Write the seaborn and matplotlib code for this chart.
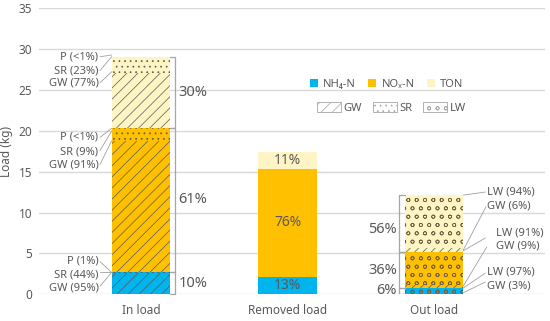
import matplotlib
matplotlib.use("Agg")
import matplotlib.pyplot as plt
from matplotlib.patches import Patch
import seaborn as sns
import pandas as pd
import numpy as np

# ---------------- data ----------------
categories = ["In load", "Removed load", "Out load"]
nh4 = [2.75, 2.15, 0.75]
nox = [17.65, 13.25, 4.45]
ton = [8.7, 2.0, 6.9]

in_pct = ["10%", "61%", "30%"]
removed_pct = ["13%", "76%", "11%"]
out_pct = ["6%", "36%", "56%"]

# source shares (In load): GW share per segment (NH4, NOx, TON)
in_gw_share = [0.95, 0.91, 0.77]
in_labels = [["P (1%)", "SR (44%)", "GW (95%)"],
             ["P (<1%)", "SR (9%)", "GW (91%)"],
             ["P (<1%)", "SR (23%)", "GW (77%)"]]
# source shares (Out load): GW share per segment (NH4, NOx, TON)
out_gw_share = [0.03, 0.09, 0.06]
out_labels = ["LW (94%)", "GW (6%)", "LW (91%)", "GW (9%)", "LW (97%)", "GW (3%)"]

legend_names = ["NH\u2084-N", "NO\u2093-N", "TON"]
pattern_names = ["GW", "SR", "LW"]

# ---------------- style ----------------
sns.set_style("white")
plt.rcParams["font.family"] = ["Noto Sans", "DejaVu Sans"]
plt.rcParams["hatch.linewidth"] = 0.5
TXT = "#595959"
C_NH4, C_NOX, C_TON = "#00B4EE", "#FFC000", "#FFF4C4"
HATCH = "#5a5a5a"
GRAY = "#a6a6a6"

fig = plt.figure(figsize=(5.5, 3.21), dpi=100)
ax = fig.add_axes([0.071, 0.083, 0.92, 0.891])

nh4_a, nox_a, ton_a = np.array(nh4), np.array(nox), np.array(ton)
df = pd.DataFrame({"cat": categories,
                   "total": nh4_a + nox_a + ton_a,
                   "low2": nh4_a + nox_a,
                   "low1": nh4_a})
W = 0.4
for col, c in (("total", C_TON), ("low2", C_NOX), ("low1", C_NH4)):
    sns.barplot(data=df, x="cat", y=col, color=c, width=W, saturation=1, ax=ax,
                zorder=2, linewidth=0, edgecolor="none")

segs = [nh4_a, nox_a, ton_a]
bottoms = [np.zeros(3), nh4_a, nh4_a + nox_a]

# In load patterns (x = 0)
for k in range(3):
    b = bottoms[k][0]
    h = segs[k][0]
    gw = h * in_gw_share[k]
    ax.bar(0, gw, bottom=b, width=W, facecolor="none", edgecolor=HATCH, lw=0, hatch="///", zorder=3)
    ax.bar(0, h - gw, bottom=b + gw, width=W, facecolor="none", edgecolor=HATCH, lw=0, hatch="...", zorder=3)

# Out load patterns (x = 2)
for k in range(3):
    b = bottoms[k][2]
    h = segs[k][2]
    gw = h * out_gw_share[k]
    ax.bar(2, gw, bottom=b, width=W, facecolor="none", edgecolor=HATCH, lw=0, hatch="////", zorder=3)
    ax.bar(2, h - gw, bottom=b + gw, width=W, facecolor="none", edgecolor="#6e6040", lw=0, hatch="oo", zorder=3)

# ---------------- axes ----------------
ax.set_ylim(0, 35)
ax.set_xlim(-0.696, 2.758)
ax.set_yticks(range(0, 36, 5))
ax.yaxis.grid(True, color="#d9d9d9", lw=1)
ax.set_axisbelow(True)
for s in ax.spines.values():
    s.set_visible(False)
ax.tick_params(axis="both", length=0, colors=TXT, labelsize=8.5)
ax.tick_params(axis="x", pad=7)
ax.tick_params(axis="y", pad=5)
ax.set_xlabel("")
ax.set_ylabel("Load (kg)", color=TXT, fontsize=8.5, labelpad=4)

# ---------------- percentage labels and brackets ----------------
tops = [bottoms[k] + segs[k] for k in range(3)]
# In load: bracket on right
bx = 0.232
for k in range(3):
    lo, hi = bottoms[k][0], tops[k][0]
    ax.plot([W / 2, bx, bx, W / 2], [hi, hi, lo, lo], color=GRAY, lw=0.9, zorder=4, clip_on=False)
    ax.text(0.255, (lo + hi) / 2, in_pct[k], ha="left", va="center", color=TXT, fontsize=10.5)
# Removed: inside
for k in range(3):
    lo, hi = bottoms[k][1], tops[k][1]
    ax.text(1, (lo + hi) / 2, removed_pct[k], ha="center", va="center", color=TXT, fontsize=10, zorder=5)
# Out load: bracket on left
bx2 = 2 - 0.238
for k in range(3):
    lo, hi = bottoms[k][2], tops[k][2]
    ax.plot([2 - W / 2, bx2, bx2, 2 - W / 2], [hi, hi, lo, lo], color=GRAY, lw=0.9, zorder=4)
    ymid = (lo + hi) / 2
    if k == 0:
        ymid = 0.5
    if k == 2:
        ymid = 7.9
    ax.text(2 - 0.253, ymid, out_pct[k], ha="right", va="center", color=TXT, fontsize=10.5)

# ---------------- leader labels: In load (left) ----------------
LC = "#a0a0a0"
in_text_y = [[4.11, 2.36, 0.80], [19.21, 17.45, 15.82], [29.08, 27.37, 25.82]]
in_line = [[((-0.28, 4.0), (-0.2, 2.69)), ((-0.28, 2.69), (-0.2, 2.69)), ((-0.28, 1.0), (-0.2, 2.69))],
           [((-0.28, 19.21), (-0.2, 20.32)), ((-0.28, 17.6), (-0.2, 19.99)), ((-0.28, 15.9), (-0.2, 18.8))],
           [((-0.28, 29.08), (-0.2, 29.29)), ((-0.28, 27.4), (-0.2, 29.08)), ((-0.28, 25.9), (-0.2, 27.24))]]
for k in range(3):
    for j in range(3):
        ax.text(-0.29, in_text_y[k][j], in_labels[k][j], ha="right", va="center", color=TXT, fontsize=8)
        (x0, y0), (x1, y1) = in_line[k][j]
        ax.plot([x0, x1], [y0, y1], color=LC, lw=0.6, zorder=4)

# ---------------- leader labels: Out load (right) ----------------
out_text = [(2.36, 12.48), (2.36, 10.85), (2.42, 7.54), (2.42, 5.91), (2.36, 2.77), (2.36, 1.05)]
out_line = [((2.35, 12.52), (2.2, 12.15)), ((2.355, 10.72), (2.2, 5.42)),
            ((2.35, 6.89), (2.2, 5.34)), ((2.36, 5.79), (2.2, 1.02)),
            ((2.35, 2.61), (2.2, 0.77)), ((2.35, 1.5), (2.2, 0.2))]
for (tx, ty), lab in zip(out_text, out_labels):
    ax.text(tx, ty, lab, ha="left", va="center", color=TXT, fontsize=8)
for (x0, y0), (x1, y1) in out_line:
    ax.plot([x0, x1], [y0, y1], color=LC, lw=0.6, zorder=4)

# ---------------- legends ----------------
h1 = [Patch(facecolor=c, edgecolor="none") for c in (C_NH4, C_NOX, C_TON)]
leg1 = fig.legend(h1, legend_names, loc="center", bbox_to_anchor=(0.703, 0.738), ncol=3,
                  frameon=False, fontsize=8, handlelength=0.7, handleheight=0.7,
                  handletextpad=0.5, columnspacing=1.1, labelcolor=TXT)
h2 = [Patch(facecolor="white", edgecolor=GRAY, lw=0.6, hatch="///"),
      Patch(facecolor="white", edgecolor=GRAY, lw=0.6, hatch="..."),
      Patch(facecolor="white", edgecolor=GRAY, lw=0.6, hatch="oo")]
leg2 = fig.legend(h2, pattern_names, loc="center", bbox_to_anchor=(0.712, 0.664), ncol=3,
                  frameon=False, fontsize=8, handlelength=2.1, handleheight=1.1,
                  handletextpad=0.25, columnspacing=1.0, labelcolor=TXT)

fig.savefig("out.png", dpi=100)
